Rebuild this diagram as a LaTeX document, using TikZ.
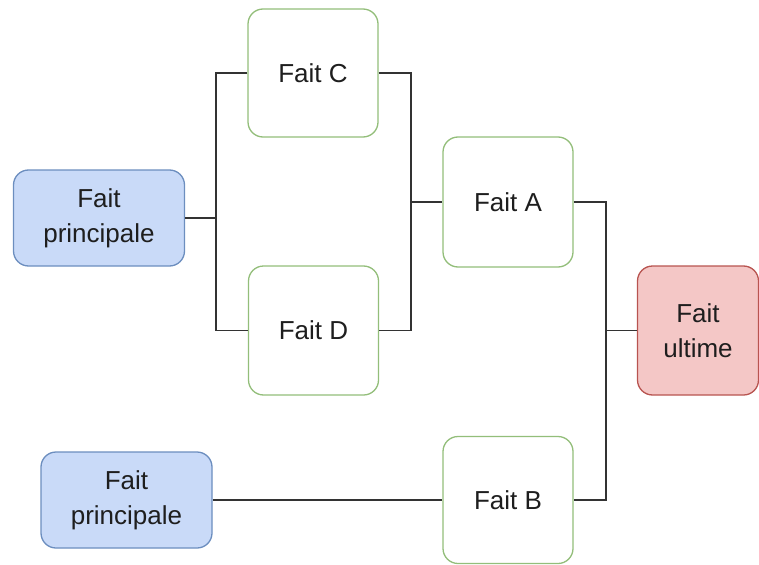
\documentclass[tikz,border=0pt]{standalone}
\usepackage{fontspec}
\setmainfont{Liberation Sans}
\definecolor{bluefill}{HTML}{C9DAF8}
\definecolor{blueline}{HTML}{6C8EBF}
\definecolor{redfill}{HTML}{F4C7C6}
\definecolor{redline}{HTML}{B85450}
\definecolor{greenline}{HTML}{93BE7A}
\definecolor{txt}{HTML}{1E1E1E}
\definecolor{wire}{HTML}{333333}
\begin{document}
\begin{tikzpicture}[x=1pt,y=-1pt,
  box/.style={rectangle, rounded corners=15pt, line width=1.3pt, inner sep=0pt,
    align=center, text=txt, font=\fontsize{26}{35}\selectfont},
  fait/.style={box, draw=greenline, fill=white, minimum width=130pt, minimum height=128pt},
  princ/.style={box, draw=blueline, fill=bluefill, minimum width=171pt, minimum height=96pt},
  ult/.style={box, draw=redline, fill=redfill, minimum width=121pt, minimum height=129pt},
  wirestyle/.style={draw=wire, line width=1.8pt}]
\useasboundingbox (0,0) rectangle (759,564);
\node[princ] (P1) at (99,218) {Fait\\principale};
\node[princ] (P2) at (126.5,500) {Fait\\principale};
\node[fait] (C) at (313,73) {Fait C};
\node[fait, minimum height=129pt] (D) at (313.5,330.5) {Fait D};
\node[fait, minimum height=130pt] (A) at (508,202) {Fait A};
\node[fait, minimum height=127pt] (B) at (508,500) {Fait B};
\node[ult] (U) at (698,330.5) {Fait\\ultime};
\coordinate (j1) at (216,218);
\coordinate (j2) at (411,202);
\coordinate (j3) at (606,330.5);
\draw[wirestyle] (C.west) -| (j1) |- (D.west);
\draw[wirestyle] (P1.east) -- (j1);
\draw[wirestyle] (C.east) -| (j2) |- (D.east);
\draw[wirestyle] (j2) -- (A.west);
\draw[wirestyle] (A.east) -| (j3) |- (B.east);
\draw[wirestyle] (j3) -- (U.west);
\draw[wirestyle] (P2.east) -- (B.west);
\end{tikzpicture}
\end{document}
